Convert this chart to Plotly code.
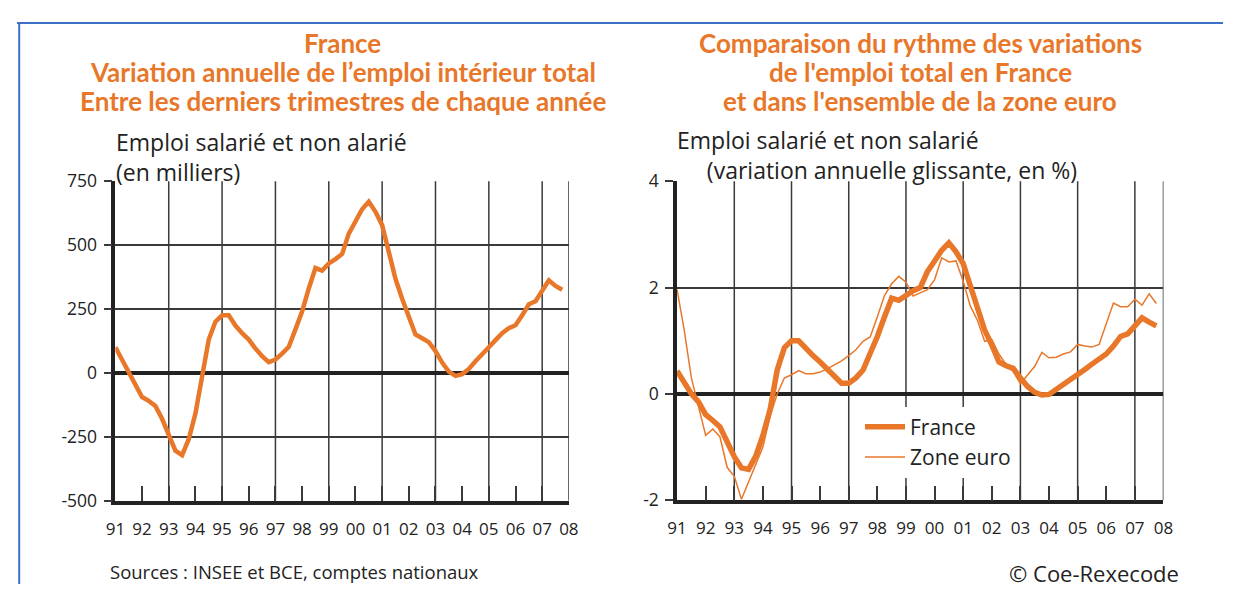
import plotly.graph_objects as go

# figure size chosen so the page (with the default 8px body margin) fits the window
OFF = 8
W, H = 1241 - 2 * OFF, 603 - 2 * OFF
ORANGE = "#E8772A"
GRID = "#3a3a3a"
TXT = "#222222"
BODY = "Open Sans"

# ---------- data ----------
start_year = 1991.0
left_values = [100, 50, 0, -50, -95, -110, -130, -180, -240, -305, -322, -260,
               -160, -25, 130, 200, 225, 225, 185, 155, 130, 95, 65, 42,
               52, 75, 102, 170, 240, 330, 410, 400, 428, 445, 465, 545,
               590, 640, 670, 630, 578, 480, 368, 290, 215, 150, 135, 120,
               85, 40, 5, -12, -5, 15, 45, 70, 100, 128, 155, 175,
               186, 225, 268, 280, 325, 362, 340, 325]

france_pct = [0.43, 0.22, 0.0, -0.15, -0.39, -0.5, -0.62, -0.9, -1.18, -1.39, -1.42, -1.17,
              -0.78, -0.3, 0.45, 0.87, 1.0, 1.0, 0.84, 0.72, 0.6, 0.47, 0.34, 0.2,
              0.2, 0.3, 0.45, 0.75, 1.08, 1.45, 1.8, 1.76, 1.86, 1.94, 2.0, 2.3,
              2.5, 2.7, 2.84, 2.67, 2.45, 2.05, 1.6, 1.2, 0.92, 0.6, 0.53, 0.48,
              0.3, 0.14, 0.03, -0.02, -0.01, 0.08, 0.17, 0.25, 0.36, 0.46, 0.56, 0.65,
              0.75, 0.9, 1.08, 1.13, 1.3, 1.43, 1.35, 1.28]

euro_pct = [1.96, 1.2, 0.3, -0.25, -0.78, -0.66, -0.81, -1.38, -1.55, -1.98, -1.65, -1.3,
            -1.0, -0.42, 0.0, 0.3, 0.36, 0.44, 0.38, 0.38, 0.41, 0.47, 0.55, 0.62,
            0.72, 0.83, 0.99, 1.07, 1.45, 1.85, 2.07, 2.21, 2.1, 1.84, 1.9, 1.96,
            2.15, 2.56, 2.48, 2.5, 2.12, 1.65, 1.38, 0.99, 1.02, 0.75, 0.55, 0.42,
            0.19, 0.36, 0.52, 0.78, 0.68, 0.69, 0.75, 0.79, 0.93, 0.9, 0.88, 0.93,
            1.3, 1.71, 1.64, 1.64, 1.78, 1.67, 1.88, 1.7]

year_ticks = list(range(1991, 2009))
year_labels = ["91", "92", "93", "94", "95", "96", "97", "98", "99",
               "00", "01", "02", "03", "04", "05", "06", "07", "08"]
left_yticks = [-500, -250, 0, 250, 500, 750]
left_ylabels = ["-500", "-250", "0", "250", "500", "750"]
right_yticks = [-2, 0, 2, 4]
right_ylabels = ["-2", "0", "2", "4"]

x_left = [start_year + 0.25 * i for i in range(len(left_values))]
x_right = [start_year + 0.25 * i for i in range(len(france_pct))]

# ---------- geometry helpers (arguments in window pixels) ----------
def fx(px):
    return (px - OFF) / W

def fy(py):
    return 1 - (py - OFF) / H

fig = go.Figure()
fig.add_trace(go.Scatter(x=x_left, y=left_values, mode="lines", xaxis="x", yaxis="y",
                         line=dict(color=ORANGE, width=4.5), showlegend=False))
fig.add_trace(go.Scatter(x=x_right, y=france_pct, mode="lines", xaxis="x2", yaxis="y2",
                         name="France", line=dict(color=ORANGE, width=5.5)))
fig.add_trace(go.Scatter(x=x_right, y=euro_pct, mode="lines", xaxis="x2", yaxis="y2",
                         name="Zone euro", line=dict(color=ORANGE, width=1.5)))

xcommon = dict(range=[1991, 2008], tickvals=year_ticks, ticktext=year_labels,
               ticks="inside", ticklen=15, tickwidth=1.5, tickcolor=GRID,
               showgrid=False, zeroline=False, showline=True, linecolor="#222",
               linewidth=3.5, ticklabelstandoff=10,
               tickfont=dict(family=BODY, size=17, color=TXT), fixedrange=True)
ycommon = dict(ticks="outside", ticklen=8, tickwidth=1.5, tickcolor=GRID,
               showgrid=True, gridcolor=GRID, gridwidth=1.5,
               zeroline=True, zerolinecolor="#222", zerolinewidth=3.5,
               showline=True, linecolor="#222", linewidth=3.5,
               ticklabelstandoff=3,
               tickfont=dict(family=BODY, size=17.5, color=TXT), fixedrange=True)

fig.update_layout(
    width=W, height=H, margin=dict(l=0, r=0, t=0, b=0),
    paper_bgcolor="white", plot_bgcolor="white",
    xaxis=dict(domain=[fx(107), fx(568)], anchor="y", **xcommon),
    yaxis=dict(domain=[fy(508), fy(175)], anchor="x", range=[-500, 750],
               tickvals=left_yticks, ticktext=left_ylabels, **ycommon),
    xaxis2=dict(domain=[fx(678), fx(1172.5)], anchor="y2", **xcommon),
    yaxis2=dict(domain=[fy(507.7), fy(175)], anchor="x2", range=[-2, 4],
                tickvals=right_yticks, ticktext=right_ylabels, **ycommon),
    legend=dict(x=fx(864), y=fy(410), xanchor="left", yanchor="top",
                bgcolor="white", borderwidth=0,
                font=dict(family=BODY, size=21, color=TXT),
                itemwidth=40, tracegroupgap=0),
)

shapes = []
for xa, ya in (("x", "y"), ("x2", "y2")):
    for yr in list(range(1993, 2009, 2)) + [2008]:
        shapes.append(dict(type="line", xref=xa, yref=ya + " domain", x0=yr, x1=yr,
                           y0=0, y1=1, line=dict(color=GRID, width=1.5), layer="below"))
# blue frame
shapes.append(dict(type="line", xref="paper", yref="paper", x0=fx(7), x1=1,
                   y0=fy(10), y1=fy(10), line=dict(color="#3C6FC6", width=2)))
shapes.append(dict(type="line", xref="paper", yref="paper", x0=max(fx(7), 0.001),
                   x1=max(fx(7), 0.001), y0=0, y1=fy(10),
                   line=dict(color="#3C6FC6", width=2)))
fig.update_layout(shapes=shapes)

ann = []
title_font = dict(family="Lato", size=26, color=ORANGE, weight="bold")
for i, t in enumerate(["France",
                       "Variation annuelle de l’emploi intérieur total",
                       "Entre les derniers trimestres de chaque année"]):
    ann.append(dict(text=t, x=fx(338), y=fy(31 + 30 * i), xref="paper", yref="paper",
                    xanchor="center", yanchor="middle", showarrow=False, font=title_font))
for i, t in enumerate(["Comparaison du rythme des variations",
                       "de l'emploi total en France",
                       "et dans l'ensemble de la zone euro"]):
    ann.append(dict(text=t, x=fx(925), y=fy(31 + 30 * i), xref="paper", yref="paper",
                    xanchor="center", yanchor="middle", showarrow=False, font=title_font))

sub_font = dict(family=BODY, size=23, color=TXT)
ann.append(dict(text="Emploi salarié et non alarié<br>(en milliers)",
                x=fx(106), y=fy(150), align="left",
                xref="paper", yref="paper", xanchor="left", yanchor="middle",
                showarrow=False, font=sub_font))
ann.append(dict(text="Emploi salarié et non salarié<br>"
                     "\u00a0\u00a0\u00a0\u00a0\u00a0(variation annuelle glissante, en %)",
                x=fx(676), y=fy(148), align="left",
                xref="paper", yref="paper", xanchor="left", yanchor="middle",
                showarrow=False, font=sub_font))
ann.append(dict(text="Sources : INSEE et BCE, comptes nationaux", x=fx(100), y=fy(582),
                xref="paper", yref="paper", xanchor="left", yanchor="middle",
                showarrow=False, font=dict(family=BODY, size=18.5, color=TXT)))
ann.append(dict(text="© Coe-Rexecode", x=fx(1190), y=fy(584),
                xref="paper", yref="paper", xanchor="right", yanchor="middle",
                showarrow=False, font=dict(family=BODY, size=22, color=TXT)))
fig.update_layout(annotations=ann)

fig.write_html("out.html")
